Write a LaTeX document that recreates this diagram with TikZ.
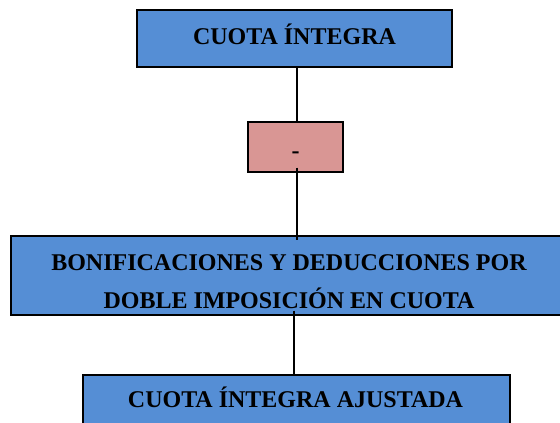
\documentclass[tikz,border=0pt]{standalone}
\usepackage{fontspec}
\setmainfont{Liberation Serif}
\usetikzlibrary{calc}
\definecolor{boxblue}{RGB}{85,142,213}
\definecolor{boxpink}{RGB}{217,150,148}
\begin{document}
\begin{tikzpicture}[x=1pt,y=-1pt,
  box/.style={draw=black, line width=1.4pt, rectangle, inner sep=0pt},
  bluebox/.style={box, fill=boxblue},
  pinkbox/.style={box, fill=boxpink},
  lbl/.style={font=\bfseries\fontsize{24}{38.5}\selectfont, inner sep=0pt, align=center},
  conn/.style={line width=1.4pt}]
\useasboundingbox (0,0) rectangle (560,423);
\clip (0,0) rectangle (560,423);
% boxes
\node[bluebox, minimum width=315pt, minimum height=57pt] (top) at (294.5,38.5) {};
\node[pinkbox, minimum width=95pt, minimum height=50pt] (minus) at (295.5,147) {};
\node[bluebox, minimum width=555pt, minimum height=79pt] (big) at (288.5,275.5) {};
\node[bluebox, minimum width=427pt, minimum height=52pt] (bot) at (296.5,401) {};
% texts
\node[lbl, anchor=base] (topt) at (294.5,44.3) {CUOTA ÍNTEGRA};
\node[lbl, anchor=base] (minust) at (295.5,158) {-};
\node[lbl] (bigt) at (289,281.7) {BONIFICACIONES Y DEDUCCIONES POR\\DOBLE IMPOSICIÓN EN CUOTA};
\node[lbl, anchor=base] (bott) at (295.5,407.3) {CUOTA ÍNTEGRA AJUSTADA};
% connectors
\coordinate (l1) at (297,0);
\coordinate (l3) at (294,0);
\draw[conn] (top.south -| l1) -- (minus.north -| l1);
\draw[conn] ($(minus.south -| l1)+(0,-5)$) -- ($(big.north -| l1)+(0,5)$);
\draw[conn] ($(big.south -| l3)+(0,-5)$) -- (bot.north -| l3);
\end{tikzpicture}
\end{document}
